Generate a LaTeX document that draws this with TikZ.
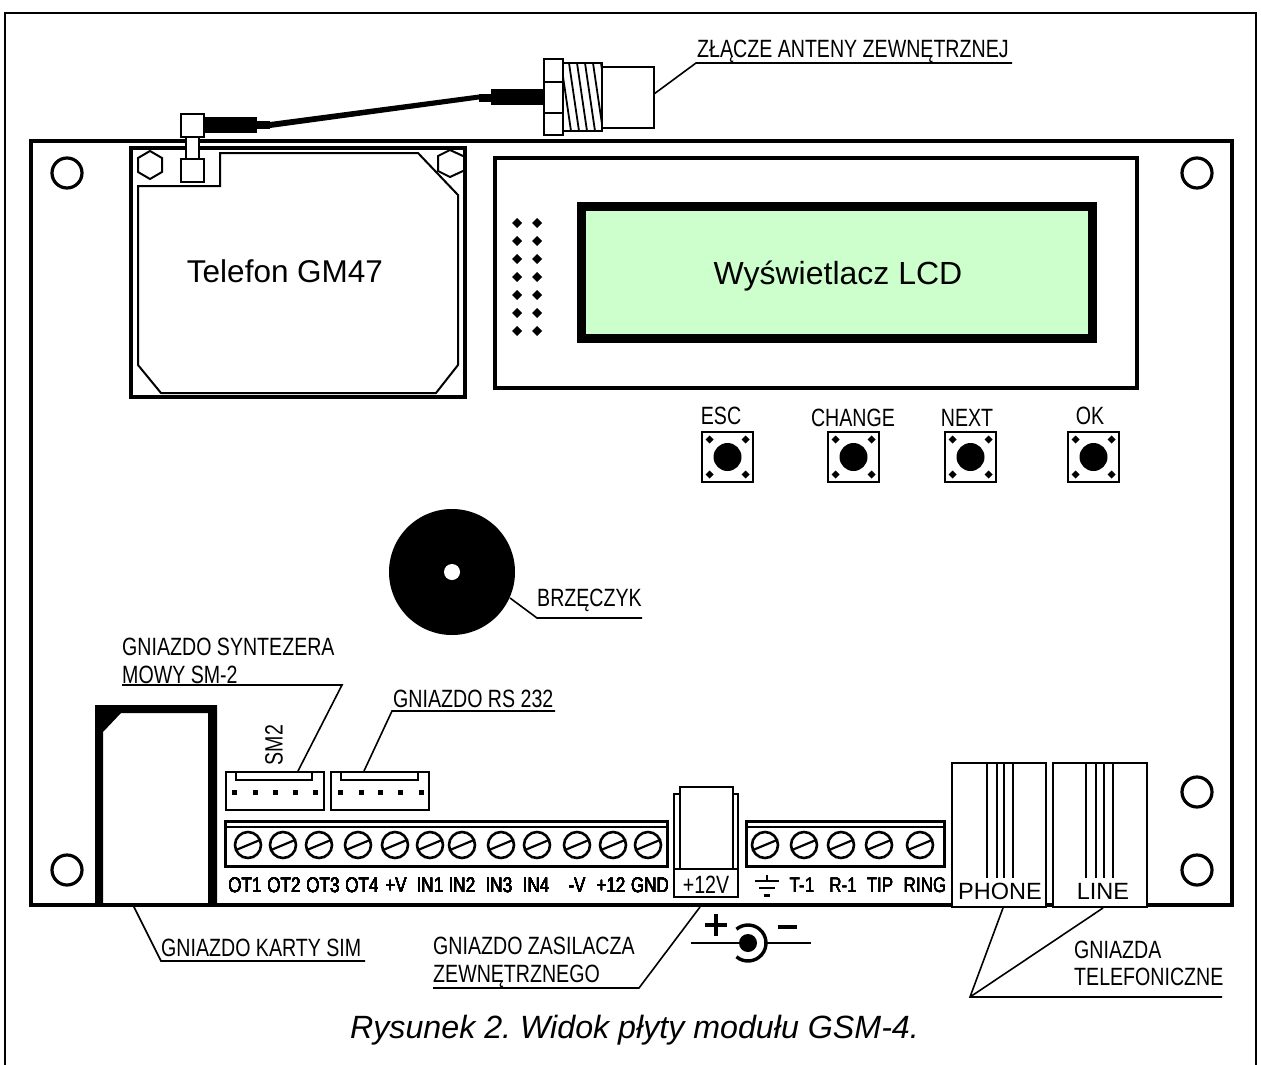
\documentclass[tikz,border=0pt]{standalone}
\usepackage{fontspec}
\setmainfont{Liberation Sans}
\newfontfamily\narrowf[FakeStretch=0.784]{Liberation Sans}
\newfontfamily\termf[FakeStretch=0.81]{Liberation Sans}
\definecolor{lcdgreen}{RGB}{204,255,204}
\frenchspacing
\tikzset{
  thin line/.style={line width=2pt},
  leader/.style={line width=1.6pt},
  heavy/.style={line width=3.8pt},
  lab/.style={inner sep=0pt,anchor=base west,font=\narrowf\fontsize{25}{28}\selectfont},
  labc/.style={inner sep=0pt,anchor=base,font=\narrowf\fontsize{25}{28}\selectfont},
  terml/.style={inner sep=0pt,anchor=base,font=\termf\fontsize{21}{26}\selectfont},
  big/.style={inner sep=0pt,anchor=base,font=\fontsize{32}{36}\selectfont},
  hole/.style={line width=3.2pt,draw,circle,minimum size=30pt,inner sep=0pt},
}
\newcommand{\myscrew}[2]{\draw[line width=2.6pt] (#1,#2) circle (13);\draw[line width=2.2pt] (#1-12,#2+5) -- (#1+12,#2-5);}
\newcommand{\mydia}[3]{\fill (#1-#3,#2) -- (#1,#2-#3) -- (#1+#3,#2) -- (#1,#2+#3) -- cycle;}
\newcommand{\mybtn}[2]{%
  \draw[line width=2.4pt] (#1,#2) rectangle (#1+51,#2+50);
  \fill (#1+25.5,#2+25) circle (14);
  \mydia{#1+7.5}{#2+7.5}{4}\mydia{#1+43.5}{#2+7.5}{4}\mydia{#1+7.5}{#2+42.5}{4}\mydia{#1+43.5}{#2+42.5}{4}}
\begin{document}
\begin{tikzpicture}[x=1pt,y=-1pt,line join=miter]
\useasboundingbox (0,0) rectangle (1261,1065);
% outer frame
\draw[thin line] (5,1065) -- (5,13) -- (1256,13) -- (1256,1065);
% board
\draw[heavy] (31,141) rectangle (1232,905);
\foreach \x/\y in {67/173,1197/173,1197/792,1197/870,67/870} \node[hole] at (\x,\y) {};
% GM47
\draw[thin line] (138,186) -- (220,186) -- (220,153) -- (418,153) -- (458,195) -- (458,365) -- (436,393) -- (161,393) -- (138,365) -- cycle;
\draw[thin line] (150,151) -- (162,158) -- (162,172) -- (150,179) -- (138,172) -- (138,158) -- cycle;
\draw[thin line] (463,156) -- (450,150) -- (438,156) -- (438,171) -- (450,177) -- (463,171);
\draw[heavy] (131,148) rectangle (465,397);
\node[big,font=\fontsize{31.5}{36}\selectfont] (gm) at (285,282) {Telefon GM47};
% pigtail
\draw[thin line,fill=white] (186,137) rectangle (199,159);
\draw[thin line,fill=white] (181,159) rectangle (204,182);
\draw[thin line,fill=white] (181,114) rectangle (204,137);
\fill (204,117) rectangle (257,133);
\fill (257,121) rectangle (270,129);
\fill (270,122) -- (479,94.5) -- (479,99.5) -- (270,128) -- cycle;
\fill (479,94) rectangle (491,102);
\fill (491,89) rectangle (544,105);
% antenna connector
\begin{scope}
\clip (563,63) rectangle (602,131);
\foreach \x in {545,553,561,569,577,585,593,601} \draw[line width=1.8pt] (\x,63) -- (\x+10,131);
\end{scope}
\draw[thin line] (563,63) rectangle (602,131);
\draw[thin line] (602,67) rectangle (654,128);
\draw[thin line,fill=white] (544,59) rectangle (563,135);
\draw[thin line] (544,82) -- (563,82) (544,113) -- (563,113);
\coordinate (antA) at (654,94);
\coordinate (antB) at (696,63);
\coordinate (antC) at (1012,63);
\draw[leader] (antA) -- (antB) -- (antC);
\node[lab] (ant) at (697,58) {ZŁĄCZE ANTENY ZEWNĘTRZNEJ};
% LCD
\draw[heavy] (495,158) rectangle (1137,388);
\draw[line width=9pt,fill=lcdgreen] (581.5,206.5) rectangle (1092.5,338.5);
\node[big] (lcd) at (838,284) {Wyświetlacz LCD};
\foreach \y in {223,241,259,277,295,313,331} {\mydia{517}{\y}{5}\mydia{537}{\y}{5}}
% buttons
\mybtn{702}{432}\mybtn{828}{432}\mybtn{945}{432}\mybtn{1068}{432}
\node[labc] (esc) at (721,424) {ESC};
\node[labc] (chg) at (853,426) {CHANGE};
\node[labc] (nxt) at (967,426) {NEXT};
\node[labc] (ok) at (1090,424) {OK};
% buzzer
\fill (452,572) circle (63);
\fill[white] (452,572) circle (8);
\coordinate (buzA) at (510,598);
\coordinate (buzB) at (537,618);
\coordinate (buzC) at (642,618);
\draw[leader] (buzA) -- (buzB) -- (buzC);
\node[lab] (buz) at (537,606) {BRZĘCZYK};
% SIM
\fill[even odd rule] (95,705) rectangle (217,903) (103,732) -- (121,713) -- (208,713) -- (208,903) -- (103,903) -- cycle;
\coordinate (simA) at (133,905);
\coordinate (simB) at (161,961);
\coordinate (simC) at (365,961);
\draw[leader] (simA) -- (simB) -- (simC);
\node[lab] (sim) at (161,956) {GNIAZDO KARTY SIM};
% small connectors
\foreach \x/\nx/\nr in {226/236/312,331/341/418} {
  \draw[thin line] (\x,772) rectangle (\x+98,810);
  \draw[thin line] (\nx,772) rectangle (\nr,780);
}
\foreach \x in {234,255,275,295,315,340,361,380,400,421} \fill (\x-2.5,789.5) rectangle (\x+2.5,794.5);
\node[labc,rotate=90,anchor=center] (smtwo) at (274,745) {SM2};
\coordinate (smA) at (298,771);
\coordinate (smB) at (342,685);
\coordinate (smC) at (122,685);
\draw[leader] (smA) -- (smB) -- (smC);
\node[lab] (smt1) at (122,655) {GNIAZDO SYNTEZERA};
\node[lab] (smt2) at (122,683) {MOWY SM-2};
\coordinate (rsA) at (364,771);
\coordinate (rsB) at (392,711);
\coordinate (rsC) at (555,711);
\draw[leader] (rsA) -- (rsB) -- (rsC);
\node[lab] (rs) at (393,707) {GNIAZDO RS 232};
% terminal block 1
\draw[line width=3pt] (225,821) rectangle (667,866);
\draw[thin line] (225,827) -- (667,827);
\foreach \x in {248,283,319,358,395,430,462,501,537,577,613,648} \myscrew{\x}{845}
\foreach \x/\t [count=\i] in {245/OT1,284/OT2,323/OT3,362/OT4,396/+V,430/IN1,462/IN2,499/IN3,536/IN4,577/-V,611/+12,650/GND}
  \node[terml] (ta\i) at (\x,892) {\t};
% power jack
\draw[thin line,fill=white] (674,794) rectangle (738,897);
\draw[thin line,fill=white] (680,787) rectangle (733,869);
\draw[thin line] (674,869) -- (738,869);
\node[labc] (pw) at (706,893) {+12V};
\coordinate (pwA) at (700,907);
\coordinate (pwB) at (639,988);
\coordinate (pwC) at (433,988);
\draw[leader] (pwA) -- (pwB) -- (pwC);
\node[lab] (pw1) at (433,954) {GNIAZDO ZASILACZA};
\node[lab] (pw2) at (433,982) {ZEWNĘTRZNEGO};
% jack symbol
\draw[line width=2.2pt] (691,943) -- (748,943);
\draw[line width=2.2pt] (767,943) -- (811,943);
\fill (748,943) circle (9);
\draw[line width=3.4pt] ([shift={(748,943)}]130:18) arc (130:-130:18);
\draw[line width=4.4pt] (705,925) -- (727,925) (716,914) -- (716,936);
\draw[line width=4.4pt] (778,927) -- (797,927);
% terminal block 2
\draw[line width=3pt] (746,821) rectangle (944,866);
\draw[thin line] (746,827) -- (944,827);
\foreach \x in {765,804,841,879,920} \myscrew{\x}{845}
\foreach \x/\t [count=\i] in {802/T-1,843/R-1,880/TIP,925/RING}
  \node[terml] (tb\i) at (\x,892) {\t};
\draw[thin line] (767,875) -- (767,881) (755,881) -- (779,881) (759,888) -- (775,888);
\draw[line width=3pt] (764,895) -- (770,895);
% phone sockets
\draw[thin line,fill=white] (952,763) rectangle (1046,907);
\draw[thin line,fill=white] (1053,763) rectangle (1147,907);
\draw[thin line] \foreach \x in {987,997,1004,1013,1086,1096,1104,1113} {(\x,763) -- (\x,878)};
\node[big,font=\fontsize{23.5}{28}\selectfont] (ph) at (1000,899) {PHONE};
\node[big,font=\fontsize{23.5}{28}\selectfont] (li) at (1103,899) {LINE};
\coordinate (telA) at (1003,908);
\coordinate (telB) at (1103,908);
\coordinate (telC) at (970,997);
\coordinate (telD) at (1222,997);
\draw[leader] (telA) -- (telC) -- (telD) (telB) -- (telC);
\node[lab] (te1) at (1074,958) {GNIAZDA};
\node[lab] (te2) at (1074,985) {TELEFONICZNE};
% caption
\node[big,font=\itshape\fontsize{32.2}{38}\selectfont] (cap) at (634.5,1038) {Rysunek 2. Widok płyty modułu GSM-4.};
\end{tikzpicture}
\end{document}
